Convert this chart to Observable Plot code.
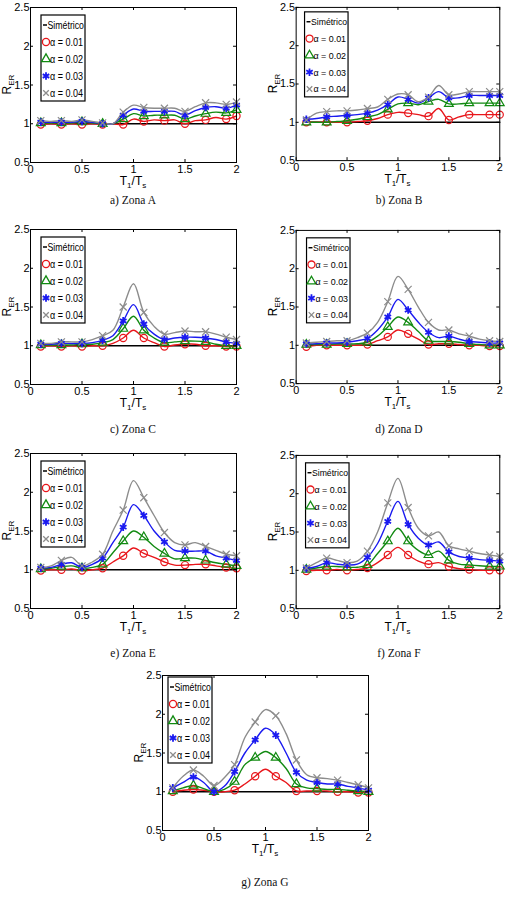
<!DOCTYPE html>
<html><head><meta charset="utf-8">
<script src="https://cdn.jsdelivr.net/npm/d3@7"></script>
<script src="https://cdn.jsdelivr.net/npm/@observablehq/plot@0.6"></script>
<style>
body{margin:0;background:#fff}
#fig{position:relative;width:523px;height:900px;background:#fff;overflow:hidden}
.pan{position:absolute}
.cap{position:absolute;width:140px;text-align:center;font-family:"Liberation Serif","Times New Roman",serif;font-size:11.5px;line-height:14px;color:#111}
</style>
</head><body><div id="fig"></div>
<script>
// ---- data ----
const xs = [0.1,0.2,0.3,0.4,0.5,0.6,0.7,0.8,0.9,1.0,1.1,1.2,1.3,1.4,1.5,1.6,1.7,1.8,1.9,2.0];
const markerX = [0.1,0.3,0.5,0.7,0.9,1.1,1.3,1.5,1.7,1.9,2.0];
const xTicks = [0,0.5,1,1.5,2];
const yTicks = [0.5,1,1.5,2,2.5];
const names = ["Simétrico","α = 0.01","α = 0.02","α = 0.03","α = 0.04"];
const colors = ["#000000","#e8161b","#118a11","#1a1af0","#8c8c8c"];
const symbols = ["circle","triangle","asterisk","times"];
const zones = ["a) Zona A","b) Zona B","c) Zona C","d) Zona D","e) Zona E","f) Zona F","g) Zona G"];

const A01 = [0.99,1.0,0.99,1.0,0.99,1.0,0.99,1.0,0.99,1.06,1.03,1.05,1.04,1.05,1.0,1.04,1.05,1.08,1.06,1.10];
const A02 = [1.01,1.01,1.01,1.01,1.02,1.01,1.0,1.0,1.06,1.13,1.1,1.11,1.11,1.11,1.06,1.1,1.13,1.15,1.14,1.18];
const A03 = [1.02,1.02,1.02,1.02,1.03,1.02,1.0,1.0,1.11,1.19,1.16,1.16,1.16,1.16,1.11,1.17,1.21,1.22,1.2,1.24];
const A04 = [1.04,1.03,1.04,1.03,1.05,1.03,1.01,1.0,1.15,1.24,1.21,1.2,1.2,1.2,1.16,1.22,1.27,1.27,1.25,1.28];

const B01 = [1.0,1.0,1.0,1.0,1.0,1.01,1.02,1.05,1.1,1.13,1.12,1.1,1.08,1.18,1.03,1.07,1.1,1.1,1.1,1.1];
const B02 = [1.0,1.0,1.0,1.01,1.02,1.04,1.07,1.1,1.17,1.24,1.25,1.23,1.27,1.3,1.24,1.24,1.25,1.25,1.25,1.25];
const B03 = [1.04,1.05,1.07,1.08,1.09,1.1,1.12,1.16,1.23,1.33,1.3,1.25,1.32,1.4,1.32,1.32,1.35,1.35,1.35,1.35];
const B04 = [1.03,1.12,1.14,1.15,1.15,1.16,1.18,1.2,1.3,1.37,1.36,1.27,1.33,1.48,1.36,1.37,1.4,1.4,1.4,1.4];

const C01 = [0.99,1.0,0.99,1.0,0.99,1.0,1.0,1.03,1.1,1.2,1.1,1.04,0.99,1.01,1.02,1.02,1.0,1.0,0.99,0.99];
const C02 = [1.01,1.01,1.01,1.01,1.02,1.02,1.04,1.08,1.22,1.38,1.2,1.1,1.04,1.05,1.06,1.06,1.05,1.02,1.0,1.0];
const C03 = [1.02,1.02,1.03,1.03,1.03,1.04,1.07,1.13,1.32,1.53,1.28,1.15,1.08,1.1,1.11,1.11,1.1,1.08,1.05,1.03];
const C04 = [1.03,1.03,1.05,1.05,1.05,1.08,1.13,1.2,1.5,1.8,1.43,1.25,1.15,1.17,1.19,1.18,1.18,1.15,1.11,1.08];

const D01 = [0.98,1.0,1.0,1.0,1.0,1.0,1.01,1.06,1.11,1.2,1.15,1.08,1.01,1.02,1.02,1.01,1.0,1.0,0.99,0.99];
const D02 = [1.01,1.01,1.01,1.02,1.02,1.02,1.04,1.12,1.24,1.37,1.3,1.18,1.06,1.05,1.05,1.04,1.02,1.01,1.0,1.0];
const D03 = [1.02,1.02,1.03,1.03,1.04,1.06,1.09,1.2,1.37,1.6,1.46,1.3,1.17,1.1,1.12,1.08,1.05,1.04,1.03,1.03];
const D04 = [1.03,1.04,1.05,1.06,1.06,1.1,1.16,1.3,1.57,1.9,1.73,1.5,1.3,1.2,1.2,1.15,1.12,1.08,1.06,1.05];

const E01 = [0.99,1.0,1.0,1.01,0.99,1.0,1.02,1.1,1.18,1.28,1.21,1.16,1.1,1.06,1.06,1.07,1.07,1.05,1.03,1.02];
const E02 = [1.01,1.02,1.04,1.05,1.02,1.03,1.07,1.22,1.37,1.5,1.42,1.3,1.21,1.14,1.15,1.15,1.12,1.09,1.07,1.05];
const E03 = [1.02,1.03,1.07,1.09,1.03,1.07,1.15,1.35,1.55,1.84,1.7,1.5,1.36,1.25,1.24,1.24,1.24,1.18,1.15,1.12];
const E04 = [1.03,1.05,1.12,1.16,1.05,1.1,1.2,1.5,1.77,2.15,1.93,1.7,1.48,1.35,1.32,1.35,1.3,1.25,1.2,1.18];

const F01 = [0.99,1.0,1.0,1.01,1.0,1.01,1.03,1.1,1.2,1.3,1.2,1.12,1.08,1.1,1.05,1.02,1.01,1.0,1.0,1.0];
const F02 = [1.01,1.03,1.05,1.05,1.04,1.04,1.07,1.22,1.38,1.55,1.38,1.26,1.2,1.25,1.13,1.08,1.07,1.06,1.05,1.05];
const F03 = [1.02,1.05,1.1,1.08,1.07,1.08,1.17,1.35,1.64,1.9,1.6,1.42,1.33,1.37,1.24,1.18,1.16,1.14,1.13,1.12];
const F04 = [1.03,1.1,1.16,1.13,1.1,1.12,1.25,1.5,1.88,2.2,1.82,1.55,1.45,1.5,1.32,1.28,1.25,1.22,1.2,1.18];

const G01 = [1.0,1.02,1.03,1.02,1.0,1.0,1.02,1.1,1.2,1.29,1.2,1.12,1.01,1.01,1.01,1.01,1.0,1.0,0.99,0.99];
const G02 = [1.01,1.05,1.08,1.04,1.0,1.03,1.13,1.35,1.44,1.52,1.44,1.3,1.1,1.05,1.04,1.03,1.03,1.02,1.01,1.0];
const G03 = [1.05,1.12,1.19,1.12,1.0,1.07,1.26,1.5,1.67,1.82,1.73,1.5,1.25,1.15,1.12,1.1,1.1,1.07,1.05,1.02];
const G04 = [1.05,1.2,1.28,1.2,1.08,1.18,1.35,1.7,1.9,2.06,1.98,1.75,1.41,1.22,1.18,1.17,1.15,1.12,1.09,1.05];

// ---- layout ----
const W = 260, H = 190, mL = 30, mR = 24, mT = 7, mB = 28;
const pw = W - mL - mR, ph = H - mT - mB;
const FONT = '"Liberation Sans Narrow","Liberation Sans",Arial,sans-serif';
const panels = [
  {series:[A01,A02,A03,A04], left:0,   top:0,   cap:[133,200], leg:[11,8]},
  {series:[B01,B02,B03,B04], left:266, top:0,   cap:[399,200], leg:[9,5]},
  {series:[C01,C02,C03,C04], left:0,   top:222, cap:[133,429], leg:[11,8]},
  {series:[D01,D02,D03,D04], left:266, top:223, cap:[399,429], leg:[11,8]},
  {series:[E01,E02,E03,E04], left:0,   top:446, cap:[133,653], leg:[11,8]},
  {series:[F01,F02,F03,F04], left:266, top:448, cap:[399,653], leg:[10,8]},
  {series:[G01,G02,G03,G04], left:132, top:668, cap:[265,882], leg:[6,2]}
];

const fig = d3.select("#fig");

panels.forEach((p, pi) => {
  const base = xs.map(x => ({x, y: 1}));
  const marks = [
    Plot.line(base, {x: "x", y: "y", stroke: colors[0], strokeWidth: 1.6})
  ];
  p.series.forEach((vals, k) => {
    const rows = xs.map((x, i) => ({x, y: vals[i]}));
    marks.push(Plot.line(rows, {x: "x", y: "y", stroke: colors[k+1], strokeWidth: 1.4, curve: "catmull-rom"}));
  });
  p.series.forEach((vals, k) => {
    const rows = xs.map((x, i) => ({x, y: vals[i]})).filter(d => markerX.includes(d.x));
    marks.push(Plot.dot(rows, {x: "x", y: "y", stroke: colors[k+1], fill: "none",
      symbol: symbols[k], r: k === 0 ? 3.6 : k === 2 ? 3.6 : 3.3, strokeWidth: k === 2 ? 1.8 : 1.2}));
  });
  marks.push(
    Plot.tickX(xTicks, {x: d => d, insetTop: ph - 3, stroke: "black"}),
    Plot.tickX(xTicks, {x: d => d, insetBottom: ph - 3, stroke: "black"}),
    Plot.tickY(yTicks, {y: d => d, insetRight: pw - 3, stroke: "black"}),
    Plot.tickY(yTicks, {y: d => d, insetLeft: pw - 3, stroke: "black"}),
    Plot.frame({stroke: "black", strokeWidth: 1}),
    Plot.axisX(xTicks, {tickSize: 0, tickPadding: 3, tickFormat: d => String(d), label: null, fontSize: 11}),
    Plot.axisY(yTicks, {tickSize: 0, tickPadding: 1, tickFormat: d => String(d), label: null, fontSize: 11})
  );
  const svg = Plot.plot({
    width: W, height: H, marginLeft: mL, marginRight: mR, marginTop: mT, marginBottom: mB,
    x: {domain: [0, 2]},
    y: {domain: [0.5, 2.5]},
    style: {fontFamily: FONT, fontSize: "11px", color: "black", background: "white", overflow: "visible"},
    marks
  });
  const s = d3.select(svg);
  // axis labels
  const yl = s.append("text").attr("transform", `translate(${mL - 19},${mT + ph/2}) rotate(-90)`)
    .attr("text-anchor", "middle").attr("font-family", FONT).attr("font-size", 12).attr("fill", "black");
  yl.append("tspan").text("R");
  yl.append("tspan").attr("dy", 3).attr("font-size", 8).text("ER");
  const xl = s.append("text").attr("x", mL + pw/2).attr("y", mT + ph + 23)
    .attr("text-anchor", "middle").attr("font-family", FONT).attr("font-size", 12).attr("fill", "black");
  xl.append("tspan").text("T");
  xl.append("tspan").attr("dy", 3).attr("font-size", 8).text("1");
  xl.append("tspan").attr("dy", -3).text("/T");
  xl.append("tspan").attr("dy", 3).attr("font-size", 8).text("s");
  // legend
  const lx = mL + p.leg[0], ly = mT + p.leg[1];
  const g = s.append("g").attr("transform", `translate(${lx},${ly})`);
  g.append("rect").attr("width", 44).attr("height", 86).attr("fill", "white").attr("stroke", "black").attr("stroke-width", 1.2);
  const rowY = [10, 27, 44, 61, 78];
  g.append("line").attr("x1", 2).attr("x2", 6).attr("y1", rowY[0]).attr("y2", rowY[0]).attr("stroke", "black").attr("stroke-width", 1.5);
  const symMap = [d3.symbolCircle, d3.symbolTriangle, d3.symbolAsterisk, d3.symbolTimes];
  names.forEach((n, i) => {
    if (i > 0) {
      const sz = i === 1 ? 40 : i === 2 ? 34 : i === 3 ? 40 : 22;
      g.append("path").attr("d", d3.symbol(symMap[i-1], sz)())
        .attr("transform", `translate(5,${rowY[i]})`)
        .attr("fill", "none").attr("stroke", colors[i]).attr("stroke-width", i === 3 ? 1.8 : 1.3);
    }
    g.append("text").attr("x", i === 0 ? 6.5 : 9).attr("y", rowY[i]).attr("dy", "0.35em")
      .attr("text-anchor", "start")
      .attr("textLength", i === 0 ? 36.5 : 33).attr("lengthAdjust", "spacingAndGlyphs")
      .attr("font-family", FONT).attr("font-size", 10).attr("fill", "black").text(n);
  });
  fig.append("div").attr("class", "pan").style("left", p.left + "px").style("top", p.top + "px").node().appendChild(svg);
  fig.append("div").attr("class", "cap").style("left", (p.cap[0] - 70) + "px").style("top", (p.cap[1] - 7) + "px").text(zones[pi]);
});
</script>
</body></html>
